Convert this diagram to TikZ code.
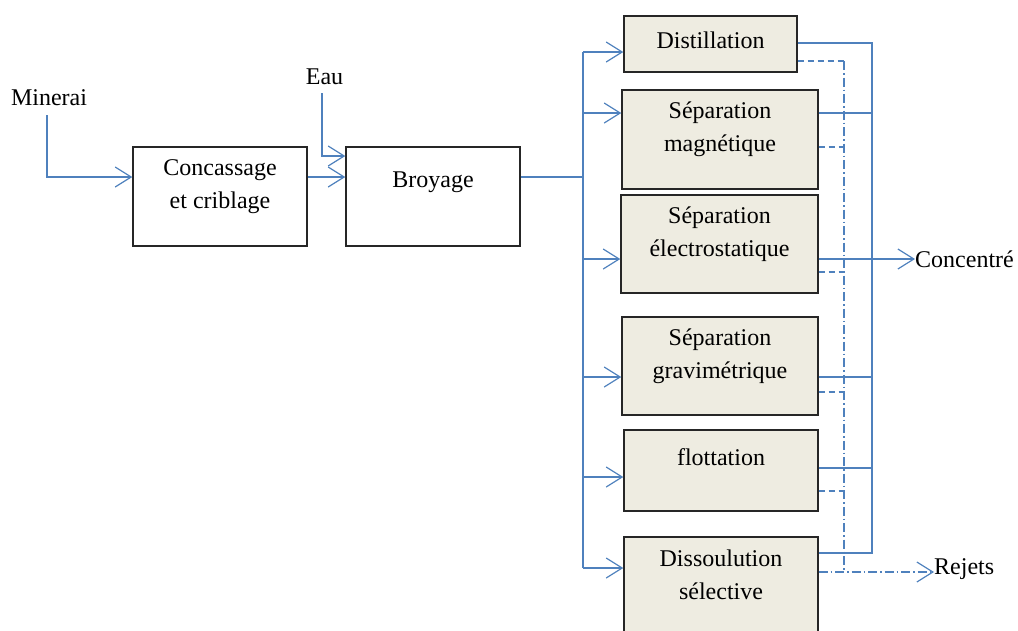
\documentclass[tikz,border=0pt]{standalone}
\usepackage{fontspec}
\setmainfont{Liberation Serif}
\usetikzlibrary{arrows.meta}
\definecolor{flowblue}{HTML}{4F81BD}
\definecolor{boxfill}{HTML}{EEECE1}
\definecolor{boxline}{HTML}{262626}
\begin{document}
\begin{tikzpicture}[x=1pt,y=-1pt,
  txt/.style={font=\fontsize{24}{33}\selectfont, align=center, inner sep=0pt},
  plainbox/.style={draw=boxline, line width=1.4pt, fill=white, inner sep=0pt},
  procbox/.style={plainbox, fill=boxfill},
  flow/.style={draw=flowblue, line width=1.2pt, -{Straight Barb[length=16pt,width=20pt,line width=1.2pt]}},
  wire/.style={draw=flowblue, line width=1.2pt},
  dashwire/.style={wire, dash pattern=on 6pt off 4pt},
  dotwire/.style={wire, dash pattern=on 9pt off 3pt on 1.5pt off 3pt}]
\useasboundingbox (0,0) rectangle (1018,630);

% left boxes
\node[plainbox, minimum width=174pt, minimum height=99pt] (cc) at (220,196.5) {};
\node[txt] (ccT) at (220,186.5) {Concassage\\et criblage};
\node[plainbox, minimum width=174pt, minimum height=99pt] (br) at (433,196.5) {};
\node[txt] (brT) at (433,182) {Broyage};

% right boxes
\node[procbox, minimum width=173pt, minimum height=56pt] (dist) at (710.5,44) {};
\node[txt] (distT) at (710.5,40) {Distillation};
\node[procbox, minimum width=196pt, minimum height=99pt] (mag) at (720,139.5) {};
\node[txt] (magT) at (720,129.5) {Séparation\\magnétique};
\node[procbox, minimum width=197pt, minimum height=98pt] (elec) at (719.5,244) {};
\node[txt] (elecT) at (719.5,234) {Séparation\\électrostatique};
\node[procbox, minimum width=196pt, minimum height=98pt] (grav) at (720,366) {};
\node[txt] (gravT) at (720,356.5) {Séparation\\gravimétrique};
\node[procbox, minimum width=194pt, minimum height=81pt] (flot) at (721,470.5) {};
\node[txt] (flotT) at (721,457) {flottation};
\node[procbox, minimum width=194pt, minimum height=113pt] (diss) at (721,593.5) {};
\node[txt] (dissT) at (721,575) {Dissoulution\\sélective};

% free labels
\node[txt] (min) at (49,98) {Minerai};
\node[txt] (eau) at (324.5,77) {Eau};
\node[txt, anchor=west] (conc) at (915,259) {Concentré};
\node[txt, anchor=west] (rej) at (934,569) {Rejets};

% inputs
\coordinate (m0) at (47,115);
\coordinate (e0) at (322,93);
\draw[flow] (m0) |- (cc.west |- 0,177);
\draw[flow] (e0) |- (br.west |- 0,156);
\draw[flow] (cc.east |- 0,177) -- (br.west |- 0,177);

% distribution
\coordinate (split) at (583,177);
\coordinate (sTop) at (583,52);
\coordinate (sBot) at (583,568);
\draw[wire] (br.east |- 0,177) -- (split);
\draw[wire] (sTop) -- (sBot);
\draw[flow] (sTop) -- (dist.west |- sTop);
\draw[flow] (583,113) -- (mag.west |- 0,113);
\draw[flow] (583,259) -- (elec.west |- 0,259);
\draw[flow] (583,377) -- (grav.west |- 0,377);
\draw[flow] (583,477) -- (flot.west |- 0,477);
\draw[flow] (sBot) -- (diss.west |- sBot);

% concentrate collector
\coordinate (cTop) at (872,43);
\coordinate (cBot) at (872,553);
\draw[wire] (dist.east |- cTop) -- (cTop) -- (cBot) -- (diss.east |- cBot);
\draw[wire] (mag.east |- 0,113) -- (872,113);
\draw[wire] (grav.east |- 0,377) -- (872,377);
\draw[wire] (flot.east |- 0,468) -- (872,468);
\draw[flow] (elec.east |- 0,259) -- (conc.west);

% rejects collector
\coordinate (rTop) at (844,61);
\coordinate (rBot) at (844,572);
\draw[dashwire] (dist.east |- rTop) -- (rTop);
\draw[dashwire] (mag.east |- 0,147) -- (844,147);
\draw[dashwire] (elec.east |- 0,272) -- (844,272);
\draw[dashwire] (grav.east |- 0,392) -- (844,392);
\draw[dashwire] (flot.east |- 0,491) -- (844,491);
\draw[dotwire] (rTop) -- (rBot);
\draw[flow, dash pattern=on 9pt off 3pt on 1.5pt off 3pt] (diss.east |- rBot) -- (rej.west |- rBot);
\end{tikzpicture}
\end{document}
